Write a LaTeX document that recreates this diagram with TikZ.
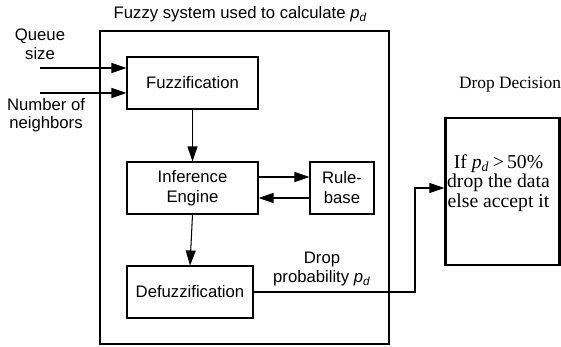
\documentclass[tikz,border=0pt]{standalone}
\usepackage{fontspec}
\setmainfont{Liberation Serif}
\setsansfont{Liberation Sans}
\usetikzlibrary{arrows.meta,positioning,calc}

\begin{document}
\begin{tikzpicture}[
    x=0.02cm, y=-0.02cm,
    box/.style={rectangle, draw, line width=0.6pt, minimum width=2.62cm, minimum height=1.04cm, align=center, font=\sffamily\fontsize{9.5}{11.4}\selectfont},
    label/.style={align=center, font=\sffamily\fontsize{9.5}{10.6}\selectfont, inner sep=0pt},
    arrow/.style={-{Triangle[length=3mm,width=2mm]}, line width=0.6pt}
]
    \useasboundingbox (0,0) rectangle (561,347);

    % Fuzzy system
    \node[draw, line width=1.3pt, minimum width=5.78cm, minimum height=6.26cm] (sys) at (244.5,187.5) {};
    \node[label] (title) at (240.5,14) {Fuzzy system used to calculate \textit{p}\textsubscript{\textit{d}}};

    \node[box] (fuzz) at (192.5,83) {Fuzzification};
    \node[box] (inf) at (192.5,188) {Inference\\Engine};
    \node[box, minimum width=2.52cm] (defuzz) at (190,292) {Defuzzification};
    \node[box, minimum width=1.28cm] (rule) at (342,188) {Rule-\\base};

    % Inputs
    \node[label] (qlab) at (40,44) {Queue\\size};
    \node[label] (nlab) at (46,115) {Number of\\neighbors};
    \coordinate (qin) at (40,68);
    \coordinate (nin) at (40,93);

    % Drop decision
    \node[rectangle, draw, line width=1.3pt, minimum width=2.28cm, minimum height=2.94cm] (dec) at (502.5,191.5) {};
    \node[align=center, inner sep=0pt, font=\fontsize{11.2}{11}\selectfont] (dectext) at (498.5,183) {If \textit{p}\textsubscript{\textit{d}}\,>\,50\%\\drop the data\\else accept it};
    \node[font=\fontsize{9.9}{12}\selectfont, inner sep=0pt] (dtitle) at (510,85) {Drop Decision};
    \node[label] (plab) at (322,269) {Drop\\probability \textit{p}\textsubscript{\textit{d}}};
    \coordinate (turn) at (415,188);

    % Arrows
    \draw[arrow] (qin) -- (qin -| fuzz.west);
    \draw[arrow] (nin) -- (nin -| fuzz.west);
    \draw[arrow] (fuzz.south) -- (inf.north);
    \draw[arrow] (inf.south) -- (defuzz.north);
    \draw[arrow] ([yshift=0.22cm]inf.east) -- ([yshift=0.22cm]rule.west);
    \draw[arrow] ([yshift=-0.2cm]rule.west) -- ([yshift=-0.2cm]inf.east);
    \draw[arrow] (defuzz.east) -| (turn) -- (turn -| dec.west);
\end{tikzpicture}
\end{document}
